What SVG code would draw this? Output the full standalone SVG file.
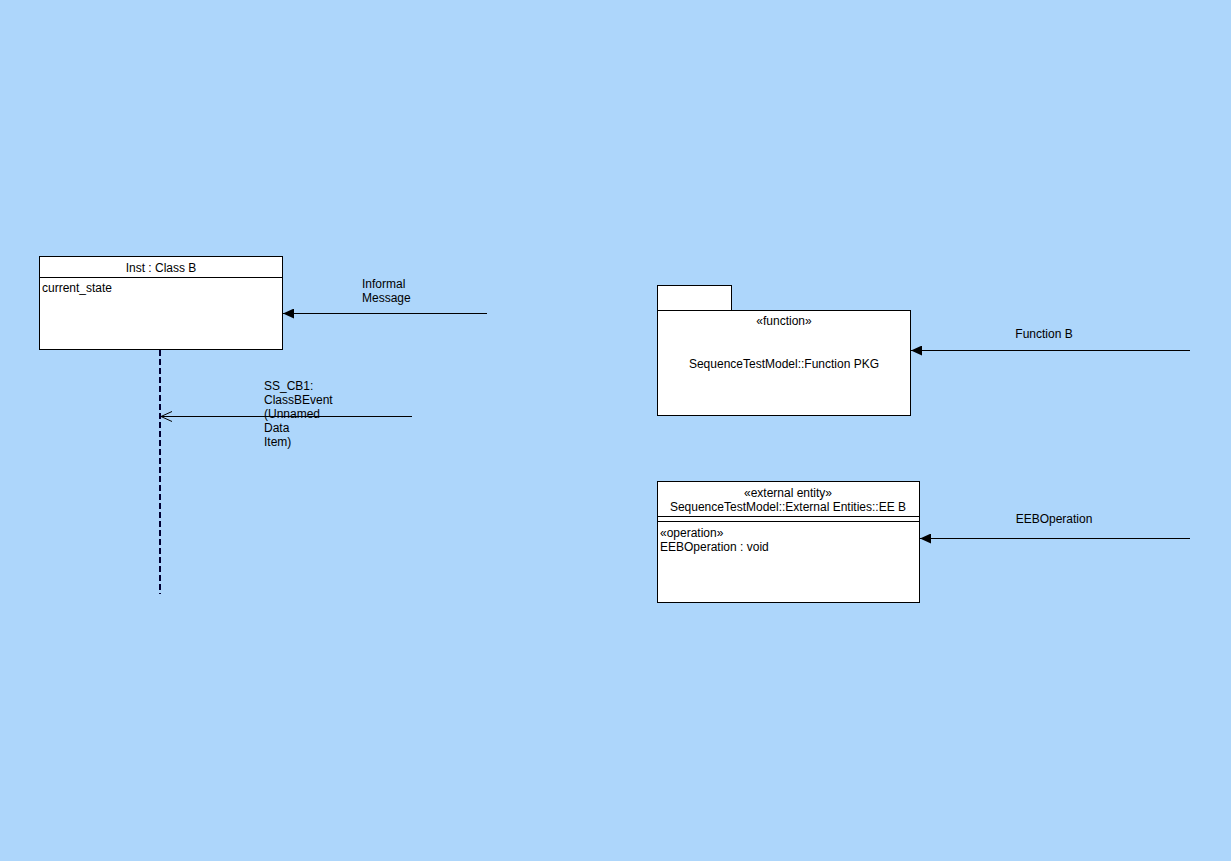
<svg xmlns="http://www.w3.org/2000/svg" width="1231" height="861" viewBox="0 0 1231 861">
  <defs>
    <style>
      text { font-family: "Liberation Sans", "DejaVu Sans", sans-serif; font-size: 12px; fill: #000; }
      .mid { text-anchor: middle; }
      .box { fill: #fff; stroke: #000; stroke-width: 1; }
      .msg { stroke: #000; stroke-width: 1; fill: none; }
      .life { stroke: #000033; stroke-width: 2; stroke-dasharray: 6 3; fill: none; }
    </style>
    <marker id="filled" markerWidth="12" markerHeight="10" refX="11" refY="5" orient="auto" markerUnits="userSpaceOnUse">
      <path d="M0,0 L11,5 L0,10 Z" fill="#000"/>
    </marker>
    <marker id="open" markerWidth="12" markerHeight="12" refX="11" refY="6" orient="auto" markerUnits="userSpaceOnUse">
      <path d="M0,1 L11,6 L0,11" fill="none" stroke="#000" stroke-width="1"/>
    </marker>
  </defs>

  <rect x="0" y="0" width="1231" height="861" fill="#ADD6FB"/>

  <!-- instance of Class B with its lifeline -->
  <g id="inst-class-b">
    <rect class="box" x="39.5" y="256.5" width="243" height="93"/>
    <line x1="39.5" y1="277.5" x2="282.5" y2="277.5" stroke="#000"/>
    <text class="mid" x="161" y="272">Inst : Class B</text>
    <text x="42" y="292">current_state</text>
    <line class="life" x1="160" y1="350" x2="160" y2="594"/>
  </g>

  <!-- function package -->
  <g id="function-pkg">
    <rect class="box" x="657.5" y="285.5" width="74" height="25"/>
    <rect class="box" x="657.5" y="310.5" width="253" height="105"/>
    <text class="mid" x="784" y="325">«function»</text>
    <text class="mid" x="784" y="368">SequenceTestModel::Function PKG</text>
  </g>

  <!-- external entity -->
  <g id="ee-b">
    <rect class="box" x="657.5" y="481.5" width="262" height="121"/>
    <line x1="657.5" y1="516.5" x2="919.5" y2="516.5" stroke="#000"/>
    <line x1="657.5" y1="521.5" x2="919.5" y2="521.5" stroke="#000"/>
    <text class="mid" x="788" y="497">«external entity»</text>
    <text class="mid" x="788" y="511">SequenceTestModel::External Entities::EE B</text>
    <text x="660" y="537">«operation»</text>
    <text x="660" y="551">EEBOperation : void</text>
  </g>

  <!-- messages -->
  <g id="connectors">
    <g id="informal-message">
      <line class="msg" x1="487" y1="313.5" x2="283" y2="313.5" marker-end="url(#filled)"/>
      <text x="362" y="288">Informal</text>
      <text x="362" y="302">Message</text>
    </g>
    <g id="ss-cb1">
      <line class="msg" x1="412" y1="416.5" x2="161" y2="416.5" marker-end="url(#open)"/>
      <text x="264" y="390">SS_CB1:</text>
      <text x="264" y="404">ClassBEvent</text>
      <text x="264" y="418">(Unnamed</text>
      <text x="264" y="432">Data</text>
      <text x="264" y="446">Item)</text>
    </g>
    <g id="function-b">
      <line class="msg" x1="1190" y1="350.5" x2="911" y2="350.5" marker-end="url(#filled)"/>
      <text class="mid" x="1044" y="338">Function B</text>
    </g>
    <g id="eeb-operation">
      <line class="msg" x1="1190" y1="538.5" x2="920" y2="538.5" marker-end="url(#filled)"/>
      <text class="mid" x="1054" y="523">EEBOperation</text>
    </g>
  </g>
</svg>
